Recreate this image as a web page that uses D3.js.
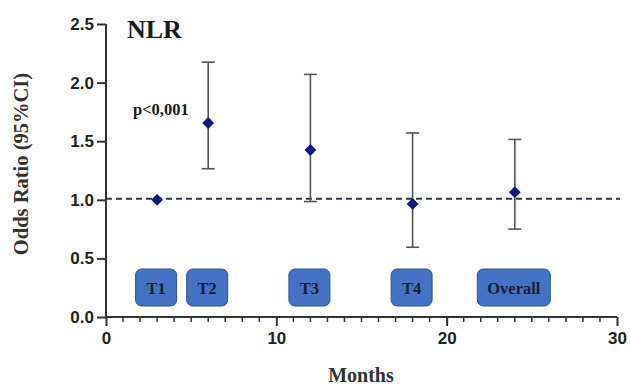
<!DOCTYPE html>
<html>
<head>
<meta charset="utf-8">
<script src="https://cdn.jsdelivr.net/npm/d3@7"></script>
<style>
  body { margin: 0; background: #fff; }
  svg { display: block; }
</style>
</head>
<body>
<svg width="630" height="385"></svg>
<script>
// data
var labels = ["T1", "T2", "T3", "T4", "Overall"];
var months = [3, 6, 12, 18, 24];
var oddsRatio = [1.0, 1.655, 1.425, 0.965, 1.065];
var ciLow = [1.0, 1.265, 0.985, 0.595, 0.75];
var ciHigh = [1.0, 2.175, 2.07, 1.57, 1.515];
var yTicks = [0, 0.5, 1.0, 1.5, 2.0, 2.5];
var xTicks = [0, 10, 20, 30];

var svg = d3.select("svg");
var x = d3.scaleLinear().domain([0, 30]).range([106, 617]);
var y = d3.scaleLinear().domain([0, 2.5]).range([317, 24]);
var serif = "'Liberation Serif', 'Times New Roman', serif";
var sans = "'Liberation Sans', Arial, sans-serif";

// reference line at OR = 1
svg.append("line")
  .attr("x1", x(0)).attr("x2", x(30) + 3)
  .attr("y1", y(1.01)).attr("y2", y(1.01))
  .attr("stroke", "#2a3550").attr("stroke-width", 2)
  .attr("stroke-dasharray", "6,4");

// y axis
var yAxis = svg.append("g")
  .attr("transform", "translate(" + x(0) + ",0)")
  .call(d3.axisLeft(y).tickValues(yTicks).tickFormat(d3.format(".1f")).tickSize(9).tickPadding(3));

// x axis
var xAxis = svg.append("g")
  .attr("transform", "translate(0," + y(0) + ")")
  .call(d3.axisBottom(x).tickValues(xTicks).tickSize(9).tickPadding(6));

// minor ticks every month
xAxis.selectAll(".minor")
  .data(d3.range(1, 30).filter(function(d) { return d % 10 !== 0; }))
  .enter().append("line")
  .attr("class", "minor")
  .attr("x1", function(d) { return x(d); }).attr("x2", function(d) { return x(d); })
  .attr("y1", 0).attr("y2", 5)
  .attr("stroke", "#333").attr("stroke-width", 1.5);

[yAxis, xAxis].forEach(function(a) {
  a.select(".domain").attr("stroke", "#333").attr("stroke-width", 2);
  a.selectAll(".tick line").attr("stroke", "#333").attr("stroke-width", 2);
  a.selectAll("text")
    .attr("font-family", sans).attr("font-weight", "bold")
    .attr("font-size", 17).attr("fill", "#222");
});
yAxis.select(".domain").attr("d", "M0," + y(0) + "V" + y(2.5));
xAxis.select(".domain").attr("d", "M" + x(0) + ",0H" + x(30));

// boxes for time points
var boxW = [41, 41, 41, 41, 73];
var boxes = svg.selectAll(".box").data(labels).enter().append("g").attr("class", "box");
boxes.append("rect")
  .attr("x", function(d, i) { return x(months[i]) - boxW[i] / 2 - 1; })
  .attr("y", 269)
  .attr("width", function(d, i) { return boxW[i]; })
  .attr("height", 37)
  .attr("rx", 6)
  .attr("fill", "#4472C4")
  .attr("stroke", "#2F528F").attr("stroke-width", 1);
boxes.append("text")
  .attr("x", function(d, i) { return x(months[i]) - 1; })
  .attr("y", 294)
  .attr("text-anchor", "middle")
  .attr("font-family", serif).attr("font-weight", "bold")
  .attr("font-size", 16.5).attr("fill", "#1b1e2e")
  .text(function(d) { return d; });

// error bars
var eb = svg.selectAll(".eb").data(labels).enter().append("g").attr("class", "eb")
  .attr("stroke", "#555").attr("stroke-width", 1.6);
eb.filter(function(d, i) { return ciHigh[i] > ciLow[i]; }).each(function(d) {
  var g = d3.select(this);
  var idx = labels.indexOf(d);
  var cx = x(months[idx]);
  g.append("line").attr("x1", cx).attr("x2", cx)
    .attr("y1", y(ciLow[idx])).attr("y2", y(ciHigh[idx]));
  [ciLow[idx], ciHigh[idx]].forEach(function(v) {
    g.append("line").attr("x1", cx - 6.5).attr("x2", cx + 6.5)
      .attr("y1", y(v)).attr("y2", y(v));
  });
});

// diamonds
svg.selectAll(".pt").data(labels).enter().append("path")
  .attr("class", "pt")
  .attr("d", d3.symbol().type(d3.symbolSquare).size(70))
  .attr("transform", function(d, i) {
    return "translate(" + x(months[i]) + "," + y(oddsRatio[i]) + ") rotate(45)";
  })
  .attr("fill", "#0b1a84");

// texts
svg.append("text").attr("x", 127).attr("y", 38)
  .attr("font-family", serif).attr("font-weight", "bold").attr("font-size", 26)
  .attr("fill", "#1a1a1a").text("NLR");
svg.append("text").attr("x", 133).attr("y", 115)
  .attr("font-family", serif).attr("font-weight", "bold").attr("font-size", 16.5)
  .attr("fill", "#1a1a1a").text("p<0,001");
svg.append("text")
  .attr("transform", "translate(28,164) rotate(-90)")
  .attr("text-anchor", "middle")
  .attr("font-family", serif).attr("font-weight", "bold").attr("font-size", 20.5)
  .attr("fill", "#333").text("Odds Ratio (95%CI)");
svg.append("text").attr("x", 361).attr("y", 382)
  .attr("text-anchor", "middle")
  .attr("font-family", serif).attr("font-weight", "bold").attr("font-size", 20)
  .attr("fill", "#333").text("Months");
</script>
</body>
</html>
